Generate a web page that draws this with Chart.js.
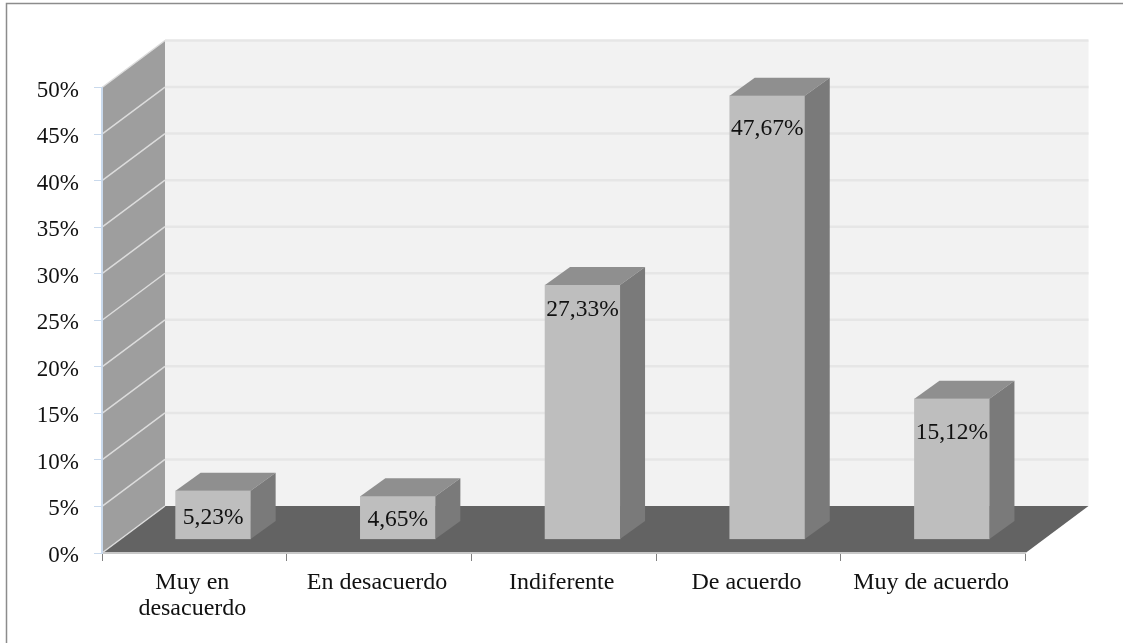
<!DOCTYPE html>
<html>
<head>
<meta charset="utf-8">
<title>Chart</title>
<script src="https://cdn.jsdelivr.net/npm/chart.js@4/dist/chart.umd.min.js"></script>
<style>
  html, body { margin: 0; padding: 0; background: #fff; }
  #wrap { width: 1123px; height: 643px; position: relative; }
</style>
</head>
<body>
<div id="wrap"><canvas id="chart" width="1123" height="643"></canvas></div>
<script>
const categories = [['Muy en', 'desacuerdo'], 'En desacuerdo', 'Indiferente', 'De acuerdo', 'Muy de acuerdo'];
const values = [5.23, 4.65, 27.33, 47.67, 15.12];
const yTicks = [0, 5, 10, 15, 20, 25, 30, 35, 40, 45, 50];

// how far below the bar top each label sits
const labelDrop = [27, 24, 25, 33, 34];

const FONT = '"Liberation Serif", "Times New Roman", serif';
const depth = { x: 63, y: 47 };     // floor / wall depth
const barShift = { x: 18.8, y: 13.5 };
const barDepth = { x: 25, y: 18 };

function poly(ctx, pts, fill) {
    ctx.beginPath();
    pts.forEach((p, i) => i ? ctx.lineTo(p[0], p[1]) : ctx.moveTo(p[0], p[1]));
    ctx.closePath();
    ctx.fillStyle = fill;
    ctx.fill();
}

const box3d = {
    id: 'box3d',
    beforeDraw(chart) {
        const { ctx, chartArea: a, scales: { y } } = chart;
        const d = depth;
        ctx.save();

        // frame
        ctx.strokeStyle = '#8c8c8c';
        ctx.lineWidth = 1.5;
        ctx.beginPath();
        ctx.moveTo(6.5, chart.height);
        ctx.lineTo(6.5, 3.5);
        ctx.lineTo(chart.width, 3.5);
        ctx.stroke();

        // back wall, side wall, floor
        poly(ctx, [[a.left + d.x, a.top - d.y], [a.right + d.x, a.top - d.y], [a.right + d.x, a.bottom - d.y], [a.left + d.x, a.bottom - d.y]], '#f2f2f2');
        poly(ctx, [[a.left, a.top], [a.left + d.x, a.top - d.y], [a.left + d.x, a.bottom - d.y], [a.left, a.bottom]], '#9e9e9e');
        poly(ctx, [[a.left, a.bottom], [a.right, a.bottom], [a.right + d.x, a.bottom - d.y], [a.left + d.x, a.bottom - d.y]], '#636363');

        // grid lines running round the walls
        yTicks.forEach(t => {
            const py = y.getPixelForValue(t);
            ctx.lineWidth = 1.5;
            ctx.strokeStyle = '#dcdcdc';
            ctx.beginPath();
            ctx.moveTo(a.left, py);
            ctx.lineTo(a.left + d.x, py - d.y);
            ctx.stroke();
            if (t > 0) {
                ctx.lineWidth = 2.5;
                ctx.strokeStyle = '#e6e6e6';
                ctx.beginPath();
                ctx.moveTo(a.left + d.x, py - d.y);
                ctx.lineTo(a.right + d.x, py - d.y);
                ctx.stroke();
            }
        });
        ctx.restore();
    },
    beforeDatasetDraw(chart) {
        const { ctx } = chart;
        ctx.save();
        ctx.translate(barShift.x, -barShift.y);
    },
    afterDatasetDraw(chart) {
        const { ctx } = chart;
        const bars = chart.getDatasetMeta(0).data;
        bars.forEach((bar, i) => {
            const { x, y, base, width } = bar.getProps(['x', 'y', 'base', 'width'], true);
            const l = x - width / 2, r = x + width / 2;
            const b = barDepth;
            poly(ctx, [[l, y], [r, y], [r + b.x, y - b.y], [l + b.x, y - b.y]], '#8f8f8f');
            poly(ctx, [[r, y], [r + b.x, y - b.y], [r + b.x, base - b.y], [r, base]], '#7a7a7a');

            ctx.fillStyle = '#111';
            ctx.font = '23.5px ' + FONT;
            ctx.textAlign = 'center';
            ctx.textBaseline = 'middle';
            ctx.fillText(values[i].toFixed(2).replace('.', ',') + '%', x, y + labelDrop[i]);
        });
        ctx.restore();
    }
};

new Chart(document.getElementById('chart'), {
    type: 'bar',
    data: {
        labels: categories,
        datasets: [{
            data: values,
            backgroundColor: '#bebebe',
            barThickness: 75,
            borderWidth: 0
        }]
    },
    options: {
        responsive: false,
        animation: false,
        layout: { padding: { left: 22, right: 97.5, top: 87.5, bottom: 0 } },
        plugins: { legend: { display: false }, tooltip: { enabled: false } },
        scales: {
            x: {
                afterFit: s => { s.height = 90; },
                grid: { drawOnChartArea: false, color: '#808080', tickLength: 8 },
                border: { color: '#c8c8c8', width: 2 },
                ticks: {
                    color: '#111',
                    padding: 9,
                    labelOffset: -2,
                    maxRotation: 0,
                    autoSkip: false,
                    font: { family: FONT, size: 24, lineHeight: 1.07 }
                }
            },
            y: {
                min: 0,
                max: 50,
                afterFit: s => { s.width = 80; },
                afterBuildTicks: s => { s.ticks = yTicks.map(v => ({ value: v })); },
                grid: { drawOnChartArea: false, color: '#c9d9ec', tickLength: 8 },
                border: { color: '#c9d9ec', width: 2 },
                ticks: {
                    color: '#111',
                    padding: 15,
                    labelOffset: 3,
                    font: { family: FONT, size: 23 },
                    callback: v => v + '%'
                }
            }
        }
    },
    plugins: [box3d]
});
</script>
</body>
</html>
